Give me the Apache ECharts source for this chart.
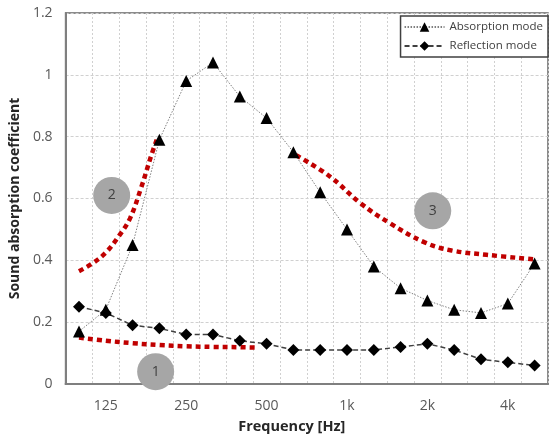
<!DOCTYPE html>
<html>
<head>
<meta charset="utf-8">
<script src="https://cdn.jsdelivr.net/npm/echarts@6/dist/echarts.min.js"></script>
<style>
  html, body { margin: 0; padding: 0; background: #fff; }
  #main { width: 557px; height: 439px; }
</style>
</head>
<body>
<div id="main"></div>
<script>
var myChart = echarts.init(document.getElementById('main'));

// 1/3 octave band centre frequencies
var freqs = ['100', '125', '160', '200', '250', '315', '400', '500', '630', '800',
    '1k', '1.25k', '1.6k', '2k', '2.5k', '3.15k', '4k', '5k'];
var absorption = [0.17, 0.24, 0.45, 0.79, 0.98, 1.04, 0.93, 0.86, 0.75, 0.62,
    0.50, 0.38, 0.31, 0.27, 0.24, 0.23, 0.26, 0.39];
var reflection = [0.25, 0.23, 0.19, 0.18, 0.16, 0.16, 0.14, 0.13, 0.11, 0.11,
    0.11, 0.11, 0.12, 0.13, 0.11, 0.08, 0.07, 0.06];

// red annotation curves, [band index, coefficient]
var curve1 = [[0, 0.15], [1, 0.14], [2, 0.132], [3, 0.126], [4, 0.122], [5, 0.12], [6, 0.119], [6.6, 0.118]];
var curve2 = [[0, 0.365], [0.5, 0.39], [1, 0.425], [1.5, 0.48], [1.9, 0.535], [2.3, 0.63], [2.7, 0.74], [2.9, 0.79]];
var curve3 = [[8.1, 0.74], [9.35, 0.672], [10.5, 0.585], [11.6, 0.52], [12.9, 0.458], [13.9, 0.432], [15.2, 0.418], [17.0, 0.403]];

// numbered markers
var markers = [[2.86, 0.04, '1'], [1.22, 0.61, '2'], [13.2, 0.56, '3']];

var fontFamily = '"Open Sans", "DejaVu Sans", sans-serif';

function redCurve(data) {
    return {
        type: 'line',
        xAxisIndex: 1,
        data: data,
        smooth: 0.4,
        symbol: 'none',
        silent: true,
        lineStyle: { color: '#c00000', width: 4.5, type: [5, 4], cap: 'butt' },
        z: 4
    };
}

var option = {
    animation: false,
    textStyle: { fontFamily: fontFamily },
    grid: {
        left: 65, top: 13, right: 9, bottom: 54,
        show: true,
        borderColor: '#666',
        borderWidth: 1.5
    },
    legend: {
        data: ['Absorption mode', 'Reflection mode'],
        orient: 'vertical',
        right: 9,
        top: 16,
        itemWidth: 40,
        itemHeight: 12,
        itemGap: 7,
        padding: [5, 5, 5, 3],
        backgroundColor: '#fff',
        borderColor: '#404040',
        borderWidth: 1.5,
        borderRadius: 0,
        textStyle: { fontSize: 11.5, color: '#404040', fontFamily: fontFamily }
    },
    xAxis: [{
        type: 'category',
        data: freqs,
        boundaryGap: true,
        name: 'Frequency [Hz]',
        nameLocation: 'middle',
        nameGap: 35,
        nameTextStyle: { fontSize: 14.5, fontWeight: 'bold', color: '#262626', padding: [0, 30, 0, 0] },
        axisLine: { show: true, lineStyle: { color: '#7f7f7f', width: 2 } },
        axisTick: { show: false },
        axisLabel: {
            interval: function (index) { return index % 3 === 1; },
            margin: 15,
            fontSize: 14,
            color: '#595959'
        },
        splitLine: {
            show: true,
            interval: 0,
            lineStyle: { color: '#d0d0d0', type: [2, 2], width: 1 }
        }
    }, {
        type: 'value',
        min: -0.5,
        max: 17.5,
        show: false
    }],
    yAxis: {
        type: 'value',
        min: 0,
        max: 1.2,
        interval: 0.2,
        name: 'Sound absorption coefficient',
        nameLocation: 'middle',
        nameGap: 43,
        nameTextStyle: { fontSize: 14, fontWeight: 'bold', color: '#262626' },
        axisLine: { show: true, onZero: false, lineStyle: { color: '#7f7f7f', width: 2 } },
        axisTick: { show: false },
        axisLabel: { margin: 13, fontSize: 14, color: '#595959' },
        splitLine: { lineStyle: { color: '#d0d0d0', type: [3, 2], width: 1 } }
    },
    series: [
        {
            name: 'Absorption mode',
            type: 'line',
            data: absorption,
            symbol: 'triangle',
            symbolSize: 12,
            itemStyle: { color: '#000' },
            lineStyle: { color: '#7f7f7f', width: 1, type: [1.5, 1.5] },
            z: 5
        },
        {
            name: 'Reflection mode',
            type: 'line',
            data: reflection,
            symbol: 'diamond',
            symbolSize: 12,
            itemStyle: { color: '#000' },
            lineStyle: { color: '#404040', width: 1.5, type: [5, 3] },
            z: 5
        },
        redCurve(curve1),
        redCurve(curve2),
        redCurve(curve3),
        {
            type: 'scatter',
            xAxisIndex: 1,
            data: markers,
            symbolSize: 37,
            clip: false,
            silent: true,
            itemStyle: { color: '#a6a6a6', opacity: 1 },
            label: {
                show: true,
                position: 'inside',
                formatter: function (p) { return p.value[2]; },
                fontSize: 14,
                color: '#404040'
            },
            z: 6
        }
    ]
};

myChart.setOption(option);
</script>
</body>
</html>
